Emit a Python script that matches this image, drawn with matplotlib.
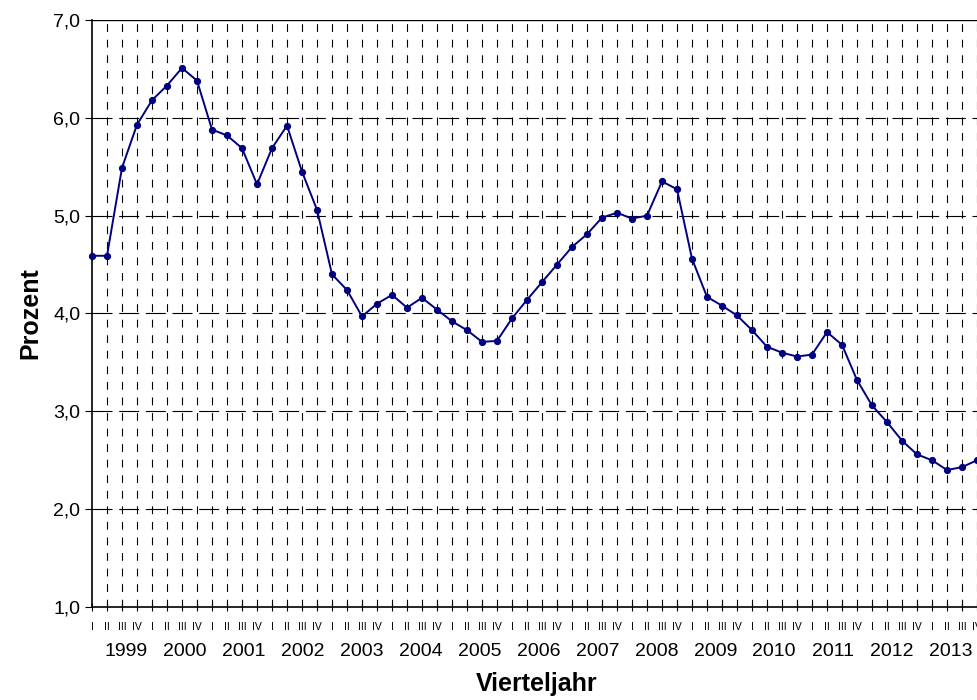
import matplotlib
matplotlib.use("Agg")
from matplotlib import pyplot as plt
import matplotlib.transforms as mtransforms

plt.rcParams['font.family'] = ['Liberation Sans', 'DejaVu Sans']

# quarterly values 1999 Q1 - 2013 Q4 (percent)
years = list(range(1999, 2014))
quarters = ["I", "II", "III", "IV"]
values = [4.59, 4.59, 5.49, 5.93, 6.18, 6.33, 6.51, 6.38,
          5.88, 5.82, 5.69, 5.32, 5.69, 5.92, 5.45, 5.06,
          4.40, 4.24, 3.97, 4.10, 4.19, 4.06, 4.16, 4.04,
          3.92, 3.83, 3.71, 3.72, 3.95, 4.14, 4.32, 4.50,
          4.68, 4.81, 4.98, 5.03, 4.97, 5.00, 5.35, 5.27,
          4.56, 4.17, 4.08, 3.98, 3.83, 3.66, 3.60, 3.56,
          3.58, 3.81, 3.68, 3.32, 3.06, 2.89, 2.70, 2.56,
          2.50, 2.40, 2.43, 2.50]
y_ticks = [1.0, 2.0, 3.0, 4.0, 5.0, 6.0, 7.0]

x = list(range(len(values)))
q_labels = [quarters[i % 4] for i in x]

fig = plt.figure(figsize=(9.77, 7.0), dpi=100)
ax = fig.add_axes([92/977, 1 - 607/700, 1 - 92/977, (607 - 20)/700])

# grid
for xi in x[1:]:
    ax.axvline(xi, color="black", lw=0.8, linestyle=(0, (7, 7)), zorder=1)
for yv in y_ticks[1:-1]:
    ax.axhline(yv, color="black", lw=0.8, linestyle=(0, (18, 6)), zorder=1)
ax.axhline(7.0, color="black", lw=1.0, zorder=1)

ax.plot(x, values, color="#000080", lw=1.4, marker="o", markersize=4.2,
        zorder=3, clip_on=False)

ax.set_xlim(0, len(values) - 1)
ax.set_ylim(1.0, 7.0)
ax.set_yticks(y_ticks)
ax.set_yticklabels([f"{v:.1f}".replace(".", ",") for v in y_ticks], fontsize=14)
ax.set_xticks(x)
ax.set_xticklabels(q_labels, fontsize=7.5)
ax.tick_params(axis="x", direction="inout", length=6, pad=8)
ax.tick_params(axis="y", direction="out", length=5)

for s in ["top", "right"]:
    ax.spines[s].set_visible(False)
ax.spines["left"].set_linewidth(1.2)
ax.spines["bottom"].set_linewidth(1.2)

# year labels sit in their own row, slightly narrower than four quarters
for i, yr in enumerate(years):
    fig.text((126 + i * 58.93) / 977, 1 - 651/700, str(yr), ha="center",
             va="center", fontsize=14)

ax.set_ylabel("Prozent", fontsize=18, fontweight="bold", labelpad=8)
fig.text(537/977, 1 - 684/700, "Vierteljahr", ha="center", va="center",
         fontsize=18, fontweight="bold")

fig.savefig("out.png", dpi=100)
